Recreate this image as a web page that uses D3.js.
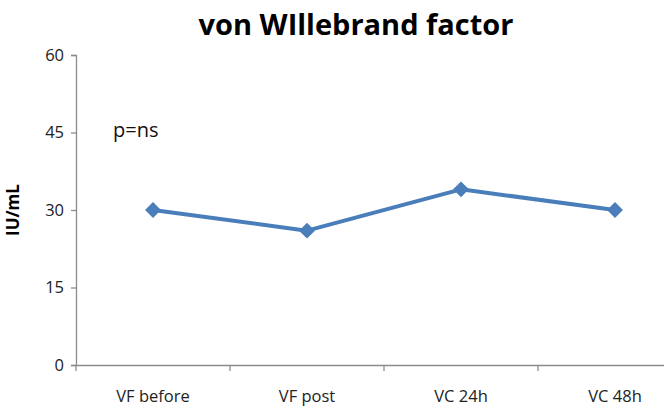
<!DOCTYPE html>
<html>
<head>
<meta charset="utf-8">
<script src="https://cdn.jsdelivr.net/npm/d3@7"></script>
<style>
  body { margin: 0; background: #fff; }
  svg { display: block; font-family: "Open Sans", sans-serif; }
</style>
</head>
<body>
<div id="chart"></div>
<script>
// data
const categories = ["VF before", "VF post", "VC 24h", "VC 48h"];
const values = [30, 26, 34, 30];
const yTicks = [0, 15, 30, 45, 60];
const title = "von WIllebrand factor";
const yLabel = "IU/mL";
const note = "p=ns";

const width = 664;
const height = 412;
const plotLeft = 76;
const bandW = 154;
const plotTop = 55;
const plotBottom = 365;
const blue = "#4a7ebb";
const axisGrey = "#8c8c8c";

const svg = d3.select("#chart").append("svg")
    .attr("width", width)
    .attr("height", height);

const x = d3.scaleBand()
    .domain(categories)
    .range([plotLeft, plotLeft + bandW * categories.length]);

const y = d3.scaleLinear()
    .domain([0, 60])
    .range([plotBottom, plotTop]);

// title
svg.append("text")
    .attr("x", 356)
    .attr("y", 35)
    .attr("text-anchor", "middle")
    .style("font-size", "29px")
    .style("font-weight", "bold")
    .attr("fill", "#000")
    .text(title);

// y axis
const yAxis = svg.append("g")
    .attr("transform", "translate(" + plotLeft + ",0)")
    .call(d3.axisLeft(y).tickValues(yTicks).tickSize(5).tickPadding(7));
yAxis.select(".domain").attr("stroke", axisGrey).attr("stroke-width", 1.3);
yAxis.selectAll(".tick line").attr("stroke", axisGrey).attr("stroke-width", 1.3);
yAxis.selectAll(".tick text")
    .attr("fill", "#222")
    .style("font-size", "16.5px")
    .style("font-family", "'Open Sans', sans-serif");

// x axis: tick marks sit on band edges, labels at band centres
const xAxis = svg.append("g")
    .attr("transform", "translate(0," + plotBottom + ")")
    .call(d3.axisBottom(x).tickSize(0).tickPadding(25));
xAxis.select(".domain").attr("stroke", axisGrey).attr("stroke-width", 1.3);
xAxis.selectAll(".tick text")
    .attr("fill", "#222")
    .style("font-size", "16.5px")
    .style("font-family", "'Open Sans', sans-serif");
xAxis.selectAll("line.edge")
    .data(categories)
    .enter().append("line")
    .attr("class", "edge")
    .attr("x1", d => x(d))
    .attr("x2", d => x(d))
    .attr("y1", 0)
    .attr("y2", 6)
    .attr("stroke", axisGrey)
    .attr("stroke-width", 1.3);

// y axis title
svg.append("text")
    .attr("transform", "translate(19," + y(30) + ") rotate(-90)")
    .attr("text-anchor", "middle")
    .style("font-size", "17px")
    .style("font-weight", "bold")
    .attr("fill", "#000")
    .text(yLabel);

// annotation
svg.append("text")
    .attr("x", 113)
    .attr("y", 137)
    .style("font-size", "20px")
    .attr("fill", "#111")
    .text(note);

// series line
const pts = categories.map((c, i) => ({ c: c, v: values[i] }));
const line = d3.line()
    .x(d => x(d.c) + x.bandwidth() / 2)
    .y(d => y(d.v));

svg.append("path")
    .datum(pts)
    .attr("d", line)
    .attr("fill", "none")
    .attr("stroke", blue)
    .attr("stroke-width", 4)
    .attr("stroke-linejoin", "round");

svg.selectAll("path.marker")
    .data(pts)
    .enter().append("path")
    .attr("class", "marker")
    .attr("transform", d => "translate(" + (x(d.c) + x.bandwidth() / 2) + "," + y(d.v) + ")")
    .attr("d", d3.symbol().type(d3.symbolDiamond2).size(160))
    .attr("fill", blue);
</script>
</body>
</html>
